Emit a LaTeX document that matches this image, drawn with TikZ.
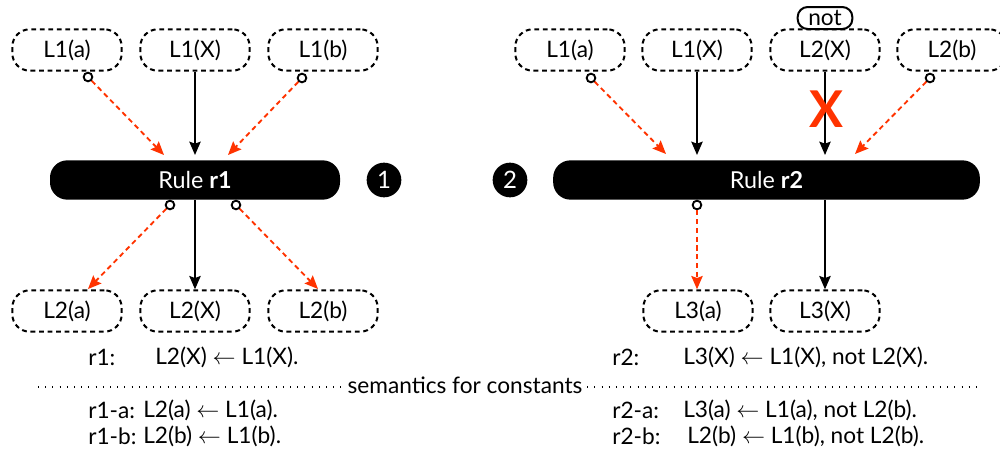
\documentclass[tikz,border=0pt]{standalone}
\usepackage{fontspec}
\setmainfont{Lato}
\usetikzlibrary{arrows.meta}
\definecolor{hot}{HTML}{FF3300}
\begin{document}
\begin{tikzpicture}[x=0.75pt,y=-0.75pt,
  every node/.style={font=\fontsize{17pt}{18pt}\selectfont},
  lit/.style={draw, dashed, dash pattern=on 3.6pt off 2.8pt, line width=1.5pt,
    rounded corners=13pt, minimum width=82pt, minimum height=31pt, inner sep=0pt},
  rulebar/.style={fill=black, text=white, rounded corners=13pt,
    minimum height=29.5pt, inner sep=0pt, font=\fontsize{17.5pt}{18pt}\selectfont},
  num/.style={circle, fill=black, text=white, minimum size=26pt, inner sep=0pt,
    font=\fontsize{18pt}{18pt}\selectfont},
  knob/.style={circle, draw, fill=white, line width=1.4pt, minimum size=6.5pt, inner sep=0pt},
  arrowtip/.style={-{Triangle[length=10pt,width=8.5pt,inset=1.5pt]}},
  posarrow/.style={line width=1.4pt, arrowtip},
  negarrow/.style={line width=1.4pt, arrowtip, hot, dash pattern=on 3.8pt off 2.8pt},
  txt/.style={anchor=west, inner sep=0pt, font=\fontsize{17pt}{18pt}\selectfont}
]
\useasboundingbox (0,0) rectangle (1000,457);

% ---- rule r1 ----
\node[lit] (a1) at (67,50) {L1(a)};
\node[lit] (x1) at (195,50) {L1(X)};
\node[lit] (b1) at (323,50) {L1(b)};
\node[rulebar, minimum width=217.5pt] (r1) at (195,180) {Rule \textbf{r1}};
\node[num] (n1) at (384,180) {1};
\node[lit] (a2) at (67,311) {L2(a)};
\node[lit] (x2) at (195,311) {L2(X)};
\node[lit] (b2) at (323,311) {L2(b)};

\node[knob] (ka1) at (88,77) {};
\node[knob] (kb1) at (302,78) {};
\node[knob] (kl1) at (170,205) {};
\node[knob] (kr1) at (236,205) {};
\coordinate (ta1) at (164,155);
\coordinate (tb1) at (228,155);
\coordinate (ta2) at (88,289);
\coordinate (tb2) at (318,289);

\draw[negarrow] (ka1) -- (ta1);
\draw[negarrow] (kb1) -- (tb1);
\draw[posarrow] (x1.south) -- ([yshift=3.8pt]x1.south |- r1.north);
\draw[negarrow] (kl1) -- (ta2);
\draw[negarrow] (kr1) -- (tb2);
\draw[posarrow] (r1.south) -- (x2.north);

% ---- rule r2 ----
\node[num] (n2) at (510,180) {2};
\node[lit] (a3) at (570,50) {L1(a)};
\node[lit] (x3) at (697,50) {L1(X)};
\node[lit] (y3) at (825,50) {L2(X)};
\node[lit] (b3) at (952,50) {L2(b)};
\node[draw, line width=1.5pt, rounded corners=7.5pt, minimum width=41pt,
  minimum height=16.5pt, inner sep=0pt] (nt) at (825,18) {not};
\node[rulebar, minimum width=320pt] (r2) at (766.5,180) {Rule \textbf{r2}};
\node[lit] (a4) at (698,311) {L3(a)};
\node[lit] (x4) at (825,311) {L3(X)};

\node[knob] (ka3) at (591,78) {};
\node[knob] (kb3) at (930,78) {};
\node[knob] (kl2) at (697,205) {};
\coordinate (ta3) at (666,154);
\coordinate (tb3) at (855,154);

\draw[negarrow] (ka3) -- (ta3);
\draw[negarrow] (kb3) -- (tb3);
\draw[posarrow] (x3.south) -- ([yshift=3.8pt]x3.south |- r2.north);
\draw[posarrow] (y3.south) -- ([yshift=3.8pt]y3.south |- r2.north);
\node[text=hot, font=\fontsize{38pt}{38pt}\selectfont\bfseries] (cross) at (826,109) {X};
\draw[negarrow] (kl2) -- (a4.north -| kl2);
\draw[posarrow] (r2.south -| x4) -- (x4.north);

% ---- rules as text ----
\node[txt] (t1) at (88,357) {r1:};
\node[txt] (t1b) at (155,357) {L2(X) $\leftarrow$ L1(X).};
\node[txt] (t2) at (88,410) {r1-a:};
\node[txt] (t2b) at (143,410) {L2(a) $\leftarrow$ L1(a).};
\node[txt] (t3) at (88,436) {r1-b:};
\node[txt] (t3b) at (143,436) {L2(b) $\leftarrow$ L1(b).};

\node[txt] (u1) at (612,357) {r2:};
\node[txt] (u1b) at (683,357) {L3(X) $\leftarrow$ L1(X), not L2(X).};
\node[txt] (u2) at (612,410) {r2-a:};
\node[txt] (u2b) at (683,410) {L3(a) $\leftarrow$ L1(a), not L2(b).};
\node[txt] (u3) at (612,436) {r2-b:};
\node[txt] (u3b) at (687,436) {L2(b) $\leftarrow$ L1(b), not L2(b).};

\node[font=\fontsize{17pt}{18pt}\selectfont] (sem) at (465,385) {semantics for constants};
\coordinate (dl) at (38,387);
\coordinate (dr) at (978,387);
\draw[line width=0.8pt, dash pattern=on 0.8pt off 4.6pt] (dl) -- (dl -| sem.west);
\draw[line width=0.8pt, dash pattern=on 0.8pt off 4.6pt] (dr -| sem.east) -- (dr);
\end{tikzpicture}
\end{document}
